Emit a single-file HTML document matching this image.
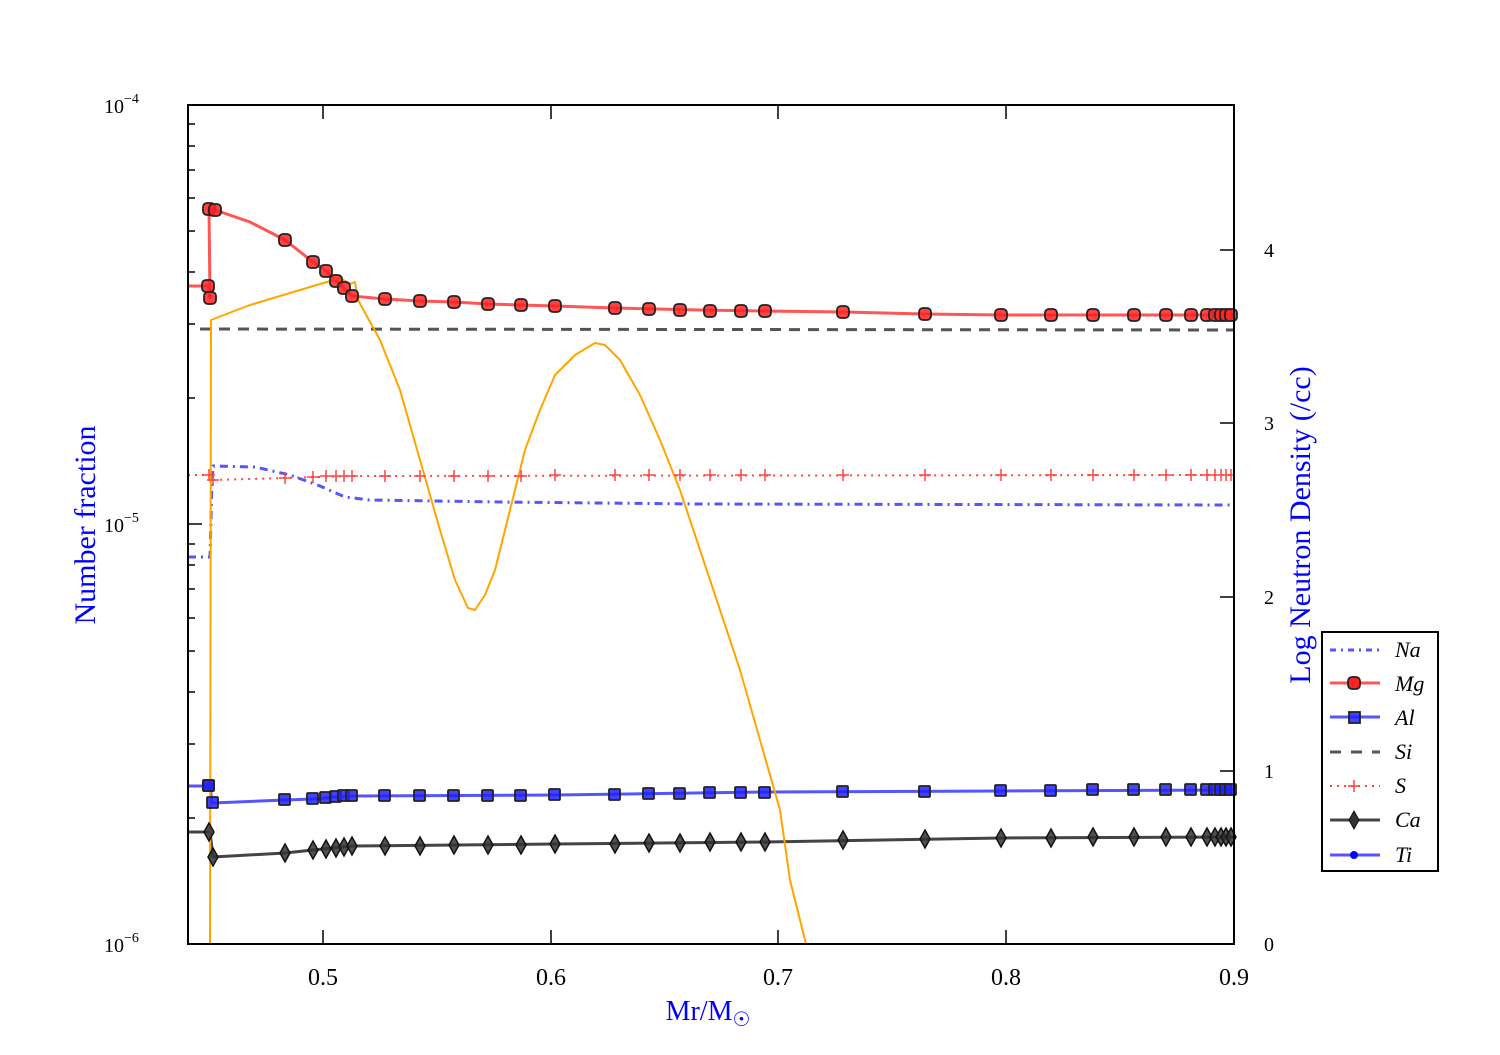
<!DOCTYPE html><html><head><style>body{margin:0;background:#fff}svg text{font-family:"Liberation Serif",serif}</style></head><body>
<svg width="1500" height="1050" xmlns="http://www.w3.org/2000/svg">
<rect width="1500" height="1050" fill="#fff"/>
<g fill="none" stroke-linejoin="round">
<!-- Si -->
<polyline points="200,329 1234,330" stroke="#555" stroke-width="3" stroke-dasharray="11,8"/>
<!-- S -->
<polyline points="188,475 210,475 213,480 285,478 352,476 1234,475" stroke="#f44" stroke-width="2" stroke-dasharray="2,5"/>
<!-- Na -->
<polyline points="188,557 210,557 212,480 213,466 255,467 290,475 320,486 345,497 370,500 500,502 700,504 1234,505" stroke="#55f" stroke-width="3" stroke-dasharray="8,5,2,5"/>
<!-- Mg -->
<polyline points="188,286 208,286 210,298 209,209 215,210 250,222 285,240 313,262 326,271 336,281 344,288 352,296 385,299 420,301 454,302 488,304 521,305 555,306 615,308 700,310 765,311 843,312 925,314 1001,315 1234,315" stroke="#f55" stroke-width="3"/>
<!-- Al -->
<polyline points="188,786 210,786 212,803 285,800 313,799 336,797 352,796 555,795 765,792 1001,791 1234,790" stroke="#55f" stroke-width="3"/>
<!-- Ca -->
<polyline points="188,832 210,832 213,857 285,853 313,850 352,846 555,844 765,842 1001,838 1234,837" stroke="#444" stroke-width="3"/>
<!-- orange -->
<polyline points="210,944 211,320 250,305 300,290 340,278 350,284 355,282 358,300 380,340 400,390 420,460 440,530 455,580 468,608 475,610 485,595 495,570 510,510 525,450 540,410 555,375 575,355 595,343 605,345 620,360 640,395 660,440 680,490 700,550 720,610 740,670 760,740 780,810 790,880 806,944" stroke="#ffa500" stroke-width="2"/>
</g>
<g id="mk">
<g fill="#f22" fill-opacity="0.85" stroke="#222" stroke-width="1.8">
<rect x="202" y="280" width="12" height="12" rx="4"/><rect x="204" y="292" width="12" height="12" rx="4"/><rect x="203" y="203" width="12" height="12" rx="4"/><rect x="209" y="204" width="12" height="12" rx="4"/>
<rect x="279" y="234" width="12" height="12" rx="4"/><rect x="307" y="256" width="12" height="12" rx="4"/><rect x="320" y="265" width="12" height="12" rx="4"/><rect x="330" y="275" width="12" height="12" rx="4"/><rect x="338" y="282" width="12" height="12" rx="4"/><rect x="346" y="290" width="12" height="12" rx="4"/>
<rect x="379" y="293" width="12" height="12" rx="4"/><rect x="414" y="295" width="12" height="12" rx="4"/><rect x="448" y="296" width="12" height="12" rx="4"/><rect x="482" y="298" width="12" height="12" rx="4"/><rect x="515" y="299" width="12" height="12" rx="4"/><rect x="549" y="300" width="12" height="12" rx="4"/><rect x="609" y="302" width="12" height="12" rx="4"/><rect x="643" y="303" width="12" height="12" rx="4"/><rect x="674" y="304" width="12" height="12" rx="4"/><rect x="704" y="305" width="12" height="12" rx="4"/><rect x="735" y="305" width="12" height="12" rx="4"/><rect x="759" y="305" width="12" height="12" rx="4"/><rect x="837" y="306" width="12" height="12" rx="4"/><rect x="919" y="308" width="12" height="12" rx="4"/><rect x="995" y="309" width="12" height="12" rx="4"/><rect x="1045" y="309" width="12" height="12" rx="4"/><rect x="1087" y="309" width="12" height="12" rx="4"/><rect x="1128" y="309" width="12" height="12" rx="4"/><rect x="1160" y="309" width="12" height="12" rx="4"/><rect x="1185" y="309" width="12" height="12" rx="4"/><rect x="1201" y="309" width="12" height="12" rx="4"/><rect x="1209" y="309" width="12" height="12" rx="4"/><rect x="1215" y="309" width="12" height="12" rx="4"/><rect x="1220" y="309" width="12" height="12" rx="4"/><rect x="1225" y="309" width="12" height="12" rx="4"/>
</g>
<g fill="#22f" fill-opacity="0.85" stroke="#222" stroke-width="1.8">
<rect x="203" y="780" width="11" height="11" rx="1"/><rect x="207" y="797" width="11" height="11" rx="1"/><rect x="203" y="780" width="11" height="11" rx="1"/>
<rect x="279" y="794" width="11" height="11" rx="1"/><rect x="307" y="793" width="11" height="11" rx="1"/><rect x="320" y="792" width="11" height="11" rx="1"/><rect x="330" y="791" width="11" height="11" rx="1"/><rect x="338" y="790" width="11" height="11" rx="1"/><rect x="346" y="790" width="11" height="11" rx="1"/><rect x="379" y="790" width="11" height="11" rx="1"/><rect x="414" y="790" width="11" height="11" rx="1"/><rect x="448" y="790" width="11" height="11" rx="1"/><rect x="482" y="790" width="11" height="11" rx="1"/><rect x="515" y="790" width="11" height="11" rx="1"/><rect x="549" y="789" width="11" height="11" rx="1"/><rect x="609" y="789" width="11" height="11" rx="1"/><rect x="643" y="788" width="11" height="11" rx="1"/><rect x="674" y="788" width="11" height="11" rx="1"/><rect x="704" y="787" width="11" height="11" rx="1"/><rect x="735" y="787" width="11" height="11" rx="1"/><rect x="759" y="787" width="11" height="11" rx="1"/><rect x="837" y="786" width="11" height="11" rx="1"/><rect x="919" y="786" width="11" height="11" rx="1"/><rect x="995" y="785" width="11" height="11" rx="1"/><rect x="1045" y="785" width="11" height="11" rx="1"/><rect x="1087" y="784" width="11" height="11" rx="1"/><rect x="1128" y="784" width="11" height="11" rx="1"/><rect x="1160" y="784" width="11" height="11" rx="1"/><rect x="1185" y="784" width="11" height="11" rx="1"/><rect x="1201" y="784" width="11" height="11" rx="1"/><rect x="1209" y="784" width="11" height="11" rx="1"/><rect x="1215" y="784" width="11" height="11" rx="1"/><rect x="1220" y="784" width="11" height="11" rx="1"/><rect x="1225" y="784" width="11" height="11" rx="1"/>
</g>
<g fill="#333" fill-opacity="0.85" stroke="#111" stroke-width="1.5">
<path d="M209,823l5,9l-5,9l-5,-9z"/><path d="M213,848l5,9l-5,9l-5,-9z"/><path d="M285,844l5,9l-5,9l-5,-9z"/><path d="M313,841l5,9l-5,9l-5,-9z"/><path d="M326,840l5,9l-5,9l-5,-9z"/><path d="M336,839l5,9l-5,9l-5,-9z"/><path d="M344,838l5,9l-5,9l-5,-9z"/><path d="M352,837l5,9l-5,9l-5,-9z"/><path d="M385,837l5,9l-5,9l-5,-9z"/><path d="M420,837l5,9l-5,9l-5,-9z"/><path d="M454,836l5,9l-5,9l-5,-9z"/><path d="M488,836l5,9l-5,9l-5,-9z"/><path d="M521,836l5,9l-5,9l-5,-9z"/><path d="M555,835l5,9l-5,9l-5,-9z"/><path d="M615,835l5,9l-5,9l-5,-9z"/><path d="M649,834l5,9l-5,9l-5,-9z"/><path d="M680,834l5,9l-5,9l-5,-9z"/><path d="M710,833l5,9l-5,9l-5,-9z"/><path d="M741,833l5,9l-5,9l-5,-9z"/><path d="M765,833l5,9l-5,9l-5,-9z"/><path d="M843,831l5,9l-5,9l-5,-9z"/><path d="M925,830l5,9l-5,9l-5,-9z"/><path d="M1001,829l5,9l-5,9l-5,-9z"/><path d="M1051,829l5,9l-5,9l-5,-9z"/><path d="M1093,828l5,9l-5,9l-5,-9z"/><path d="M1134,828l5,9l-5,9l-5,-9z"/><path d="M1166,828l5,9l-5,9l-5,-9z"/><path d="M1191,828l5,9l-5,9l-5,-9z"/><path d="M1207,828l5,9l-5,9l-5,-9z"/><path d="M1215,828l5,9l-5,9l-5,-9z"/><path d="M1221,828l5,9l-5,9l-5,-9z"/><path d="M1226,828l5,9l-5,9l-5,-9z"/><path d="M1231,828l5,9l-5,9l-5,-9z"/>
</g>
<g stroke="#f44" stroke-width="1.5">
<path d="M209,469v12M203,475h12M213,474v12M207,480h12M285,472v12M279,478h12M313,471v12M307,477h12M326,470v12M320,476h12M336,470v12M330,476h12M344,470v12M338,476h12M352,470v12M346,476h12M385,470v12M379,476h12M420,470v12M414,476h12M454,470v12M448,476h12M488,470v12M482,476h12M521,470v12M515,476h12M555,469v12M549,475h12M615,469v12M609,475h12M649,469v12M643,475h12M680,469v12M674,475h12M710,469v12M704,475h12M741,469v12M735,475h12M765,469v12M759,475h12M843,469v12M837,475h12M925,469v12M919,475h12M1001,469v12M995,475h12M1051,469v12M1045,475h12M1093,469v12M1087,475h12M1134,469v12M1128,475h12M1166,469v12M1160,475h12M1191,469v12M1185,475h12M1207,469v12M1201,475h12M1215,469v12M1221,469v12M1226,469v12M1231,469v12M1209,475h25"/>
</g>
</g>
<!-- axes -->
<rect x="188" y="105" width="1046" height="839" fill="none" stroke="#000" stroke-width="2"/>
<g stroke="#000" stroke-width="1.5">
<path d="M188,105h14M188,524h14M188,944h14M188,398h7M188,324h7M188,272h7M188,231h7M188,198h7M188,170h7M188,146h7M188,124h7M188,818h7M188,744h7M188,692h7M188,651h7M188,618h7M188,589h7M188,565h7M188,544h7"/>
<path d="M1234,944h-14M1234,771h-14M1234,597h-14M1234,423h-14M1234,250h-14"/>
<path d="M323,944v-14M551,944v-14M778,944v-14M1006,944v-14M323,105v14M551,105v14M778,105v14M1006,105v14"/>
</g>
<g font-size="24" fill="#000">
<text x="323" y="985" text-anchor="middle">0.5</text><text x="551" y="985" text-anchor="middle">0.6</text><text x="778" y="985" text-anchor="middle">0.7</text><text x="1006" y="985" text-anchor="middle">0.8</text><text x="1234" y="985" text-anchor="middle">0.9</text>
<text x="104" y="113" font-size="20">10<tspan dy="-10" font-size="14">−4</tspan></text>
<text x="104" y="532" font-size="20">10<tspan dy="-10" font-size="14">−5</tspan></text>
<text x="104" y="952" font-size="20">10<tspan dy="-10" font-size="14">−6</tspan></text>
<g font-size="20"><text x="1264" y="951">0</text><text x="1264" y="778">1</text><text x="1264" y="604">2</text><text x="1264" y="430">3</text><text x="1264" y="257">4</text></g>
</g>
<text x="708" y="1020" font-size="28" fill="#00f" text-anchor="middle">Mr/M<tspan font-size="20" dy="6">☉</tspan></text>
<text transform="translate(95,525) rotate(-90)" font-size="30" fill="#00f" text-anchor="middle">Number fraction</text>
<text transform="translate(1310,525) rotate(-90)" font-size="30" fill="#00f" text-anchor="middle">Log Neutron Density (/cc)</text>
<!-- legend -->
<rect x="1322" y="632" width="116" height="239" fill="#fff" stroke="#000" stroke-width="2"/>
<g font-size="22" font-style="italic" fill="#000">
<line x1="1330" y1="650" x2="1380" y2="650" stroke="#55f" stroke-width="3" stroke-dasharray="6,5,2,5"/><text x="1395" y="657">Na</text>
<line x1="1330" y1="683" x2="1380" y2="683" stroke="#f55" stroke-width="3"/><rect x="1348" y="677" width="12" height="12" rx="4" fill="#f22" stroke="#222" stroke-width="1.8"/><text x="1395" y="691">Mg</text>
<line x1="1330" y1="717" x2="1380" y2="717" stroke="#55f" stroke-width="3"/><rect x="1349" y="712" width="11" height="11" fill="#22f" fill-opacity="0.85" stroke="#222" stroke-width="1.8"/><text x="1395" y="725">Al</text>
<line x1="1330" y1="752" x2="1380" y2="752" stroke="#555" stroke-width="3" stroke-dasharray="11,10"/><text x="1395" y="759">Si</text>
<line x1="1330" y1="786" x2="1380" y2="786" stroke="#f44" stroke-width="2" stroke-dasharray="2,5"/><path d="M1354,780v12M1348,786h12" stroke="#f44" stroke-width="1.5"/><text x="1395" y="793">S</text>
<line x1="1330" y1="820" x2="1380" y2="820" stroke="#444" stroke-width="3"/><path d="M1354,811l5,9l-5,9l-5,-9z" fill="#333" stroke="#111"/><text x="1395" y="827">Ca</text>
<line x1="1330" y1="855" x2="1380" y2="855" stroke="#55f" stroke-width="3"/><circle cx="1354" cy="855" r="4" fill="#00f"/><text x="1395" y="862">Ti</text>
</g>
</svg></body></html>
